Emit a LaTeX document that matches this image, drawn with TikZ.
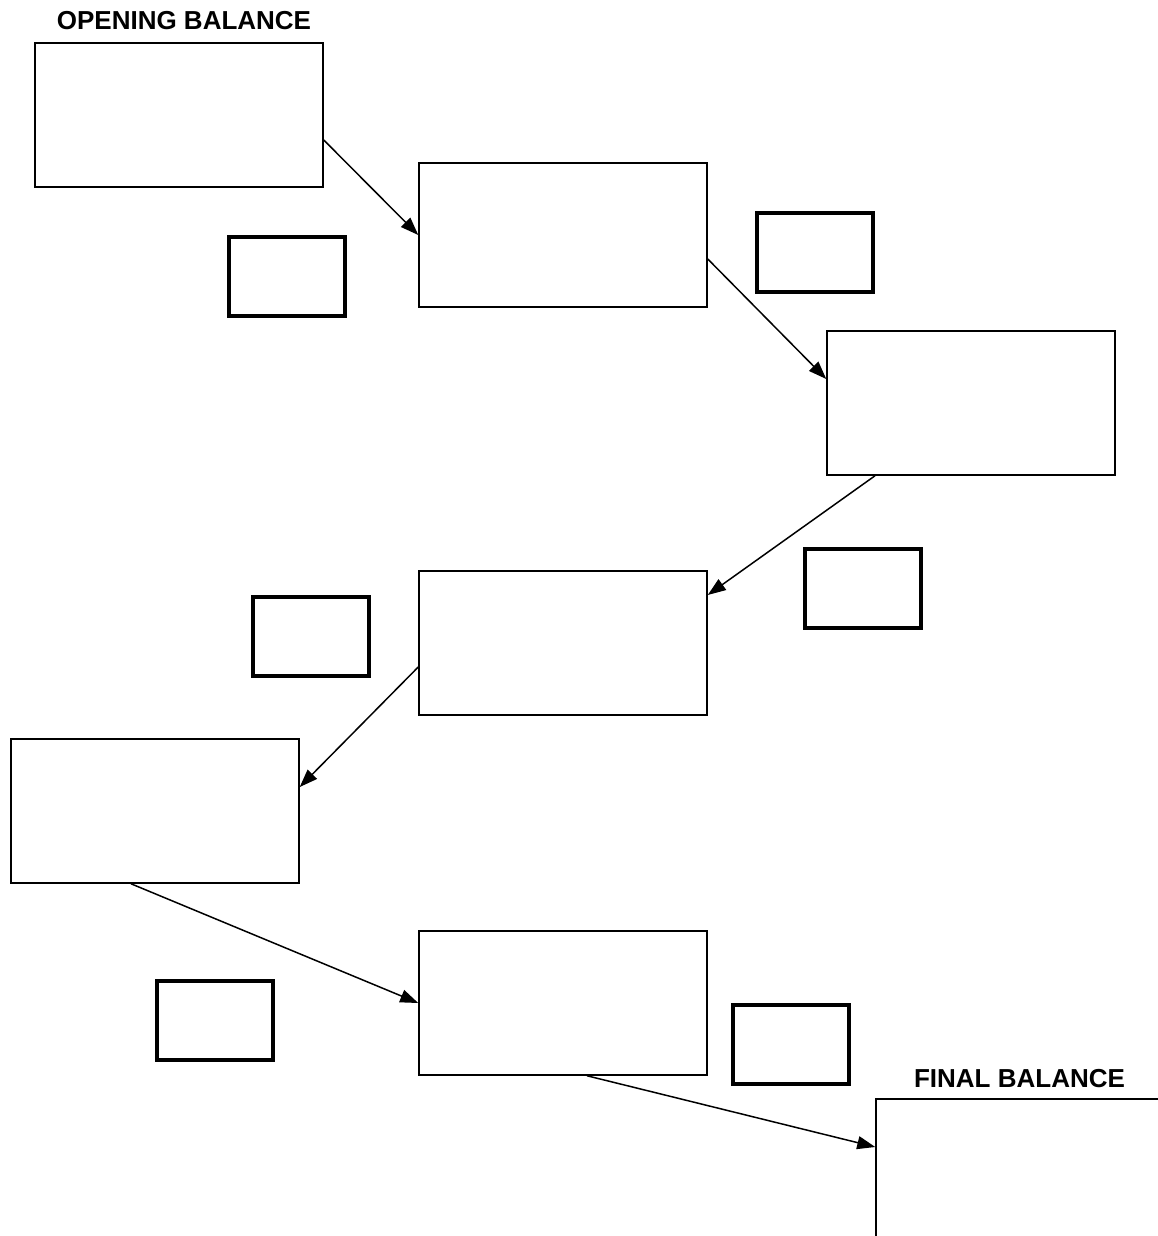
\documentclass[tikz,border=0pt]{standalone}
\usepackage{fontspec}
\setmainfont{Liberation Sans}
\usetikzlibrary{arrows.meta}
\begin{document}
\begin{tikzpicture}[x=1pt,y=-1pt,
  bigbox/.style={draw,line width=1.5pt,rectangle,inner sep=0,minimum width=288pt,minimum height=144pt},
  smallbox/.style={draw,line width=4pt,rectangle,inner sep=0,minimum width=116pt,minimum height=79pt},
  flow/.style={line width=1.5pt,-{Triangle[length=18pt,width=13pt]}},
  title/.style={font=\bfseries\fontsize{26}{30}\selectfont,inner sep=0}]
\useasboundingbox (0,0) rectangle (1158,1236);
\clip (0,0) rectangle (1158,1236);
\fill[white] (0,0) rectangle (1158,1236);
\node[title] (t1) at (184,21) {OPENING BALANCE};
\node[title] (t2) at (1019.5,1079) {FINAL BALANCE};
\node[bigbox] (b1) at (179,115) {};
\node[bigbox] (b2) at (563,235) {};
\node[bigbox] (b3) at (971,403) {};
\node[bigbox] (b4) at (563,643) {};
\node[bigbox] (b5) at (155,811) {};
\node[bigbox] (b6) at (563,1003) {};
\node[bigbox] (b7) at (1020,1171) {};
\node[smallbox] (s1) at (287,276.5) {};
\node[smallbox] (s2) at (814.5,252.5) {};
\node[smallbox] (s3) at (862.5,588.5) {};
\node[smallbox] (s4) at (310.5,636.5) {};
\node[smallbox] (s5) at (214.5,1020.5) {};
\node[smallbox] (s6) at (791,1044.5) {};
\draw[flow] ([yshift=-25pt]b1.east) -- (b2.west);
\draw[flow] ([yshift=-24pt]b2.east) -- ([yshift=24pt]b3.west);
\draw[flow] ([xshift=-96pt]b3.south) -- ([yshift=48pt]b4.east);
\draw[flow] ([yshift=-24pt]b4.west) -- ([yshift=24pt]b5.east);
\draw[flow] ([xshift=-24pt]b5.south) -- (b6.west);
\draw[flow] ([xshift=24pt]b6.south) -- ([yshift=24pt]b7.west);
\end{tikzpicture}
\end{document}
